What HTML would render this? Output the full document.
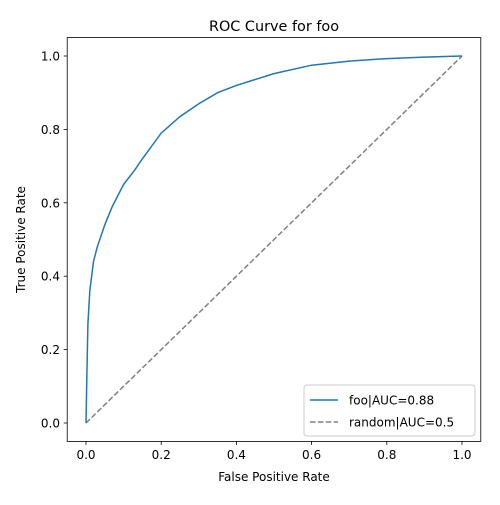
<!DOCTYPE html>
<html><head><meta charset="utf-8"><style>
body{margin:0;background:#fff;font-family:"Liberation Sans","DejaVu Sans",sans-serif;}
</style></head><body>
<svg width="500" height="500" xmlns="http://www.w3.org/2000/svg" font-family="DejaVu Sans, Liberation Sans, sans-serif">
<rect width="500" height="500" fill="#fff"/>
<text x="274" y="31" font-size="14.4" text-anchor="middle">ROC Curve for foo</text>
<g id="ticks"></g>
<path id="diag" fill="none" stroke="#808080" stroke-width="1.5" stroke-dasharray="5.5,2.4"/>
<path id="roc" fill="none" stroke="#1f77b4" stroke-width="1.5"/>
<rect x="67.2" y="37.6" width="413.6" height="403.8" fill="none" stroke="#000" stroke-width="0.8"/>
<text x="274" y="481" font-size="12" text-anchor="middle">False Positive Rate</text>
<text transform="translate(25,239.5) rotate(-90)" font-size="12" text-anchor="middle">True Positive Rate</text>
<g>
<rect x="304" y="385" width="171" height="51" rx="3" fill="#fff" fill-opacity="0.8" stroke="#ccc" stroke-width="1"/>
<line x1="310" y1="400" x2="338" y2="400" stroke="#1f77b4" stroke-width="1.5"/>
<text x="349" y="404.5" font-size="12">foo|AUC=0.88</text>
<line x1="310" y1="422" x2="338" y2="422" stroke="#808080" stroke-width="1.5" stroke-dasharray="5.5,2.4"/>
<text x="349" y="426.5" font-size="12">random|AUC=0.5</text>
</g>
</svg>
<script>
const fpr=[0,0.002,0.005,0.01,0.02,0.03,0.05,0.07,0.1,0.13,0.15,0.2,0.25,0.3,0.35,0.4,0.5,0.6,0.7,0.8,0.9,1];
const tpr=[0,0.12,0.27,0.36,0.44,0.48,0.54,0.59,0.65,0.69,0.72,0.79,0.835,0.87,0.9,0.92,0.952,0.975,0.986,0.993,0.997,1];
const randX=[0,1];
const randY=[0,1];
const xTicks=[0,0.2,0.4,0.6,0.8,1.0];
const yTicks=[0,0.2,0.4,0.6,0.8,1.0];
const X=v=>86+v*376, Y=v=>423-v*367;
const ns="http://www.w3.org/2000/svg";
const pathOf=(xs,ys)=>xs.map((v,i)=>(i?'L':'M')+X(v).toFixed(1)+','+Y(ys[i]).toFixed(1)).join('');
document.getElementById('roc').setAttribute('d',pathOf(fpr,tpr));
document.getElementById('diag').setAttribute('d',pathOf(randX,randY));
const g=document.getElementById('ticks');
xTicks.forEach(t=>{
 const l=document.createElementNS(ns,'line');
 l.setAttribute('x1',X(t));l.setAttribute('x2',X(t));l.setAttribute('y1',441.4);l.setAttribute('y2',444.9);
 l.setAttribute('stroke','#000');l.setAttribute('stroke-width','0.8');
 
 
 g.appendChild(l);
 const tx=document.createElementNS(ns,'text');
 tx.setAttribute('x',X(t));tx.setAttribute('y',459);tx.setAttribute('font-size','12');tx.setAttribute('text-anchor','middle');
 tx.textContent=t.toFixed(1);
 
 
 g.appendChild(tx);
});
yTicks.forEach(t=>{
 const l=document.createElementNS(ns,'line');
 l.setAttribute('x1',63.7);l.setAttribute('x2',67.2);l.setAttribute('y1',Y(t));l.setAttribute('y2',Y(t));
 l.setAttribute('stroke','#000');l.setAttribute('stroke-width','0.8');
 
 
 g.appendChild(l);
 const tx=document.createElementNS(ns,'text');
 tx.setAttribute('x',60);tx.setAttribute('y',Y(t)+4.5);tx.setAttribute('font-size','12');tx.setAttribute('text-anchor','end');
 tx.textContent=t.toFixed(1);
 
 
 g.appendChild(tx);
});
</script>
</body></html>
